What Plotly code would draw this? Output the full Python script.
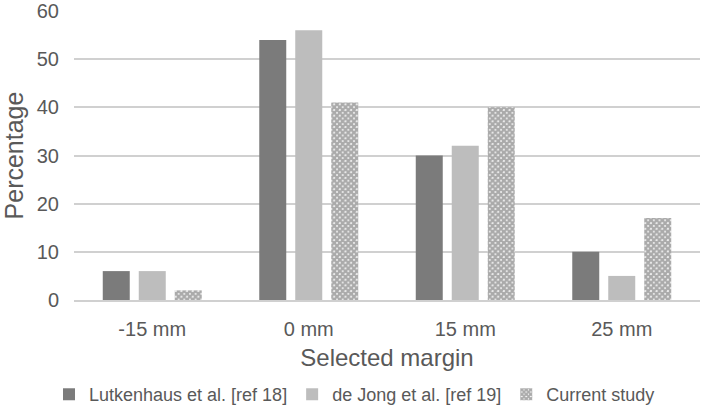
import plotly.graph_objects as go

margins = ['-15 mm', '0 mm', '15 mm', '25 mm']
lutkenhaus = [6, 54, 30, 10]
de_jong = [6, 56, 32, 5]
current = [2, 41, 40, 17]

fig = go.Figure()
fig.add_trace(go.Bar(x=margins, y=lutkenhaus, name='Lutkenhaus et al. [ref 18]',
                     marker=dict(color='#7b7b7b', line=dict(width=0))))
fig.add_trace(go.Bar(x=margins, y=de_jong, name='de Jong et al. [ref 19]',
                     marker=dict(color='#bdbdbd', line=dict(width=0))))
fig.add_trace(go.Bar(x=margins, y=current, name='Current study',
                     marker=dict(color='#5a5a5a', line=dict(width=0),
                                 pattern=dict(shape='x', fgcolor='#555555', bgcolor='white',
                                              size=4, solidity=0.85))))

fig.update_layout(
    width=709, height=411,
    margin=dict(l=74, r=9, t=11, b=111, autoexpand=False),
    plot_bgcolor='white', paper_bgcolor='white',
    font=dict(family='Liberation Sans', color='#595959'),
    barmode='group', bargap=0.31, bargroupgap=0.25,
    legend=dict(orientation='h', xref='container', yref='container',
                x=0.5, xanchor='center', y=0.085, yanchor='top',
                font=dict(size=18), itemwidth=30, tracegroupgap=0),
    showlegend=True,
)
fig.update_xaxes(title=dict(text='Selected margin', font=dict(size=24), standoff=10),
                 tickfont=dict(size=20), showline=True, linecolor='#d0d0d0', linewidth=2,
                 ticks='', ticklabelstandoff=10, automargin=False)
fig.update_yaxes(title=dict(text='Percentage', font=dict(size=25), standoff=12),
                 tickfont=dict(size=20), range=[0, 60], dtick=10, ticklabelstandoff=14,
                 gridcolor='#d0d0d0', gridwidth=2, zeroline=False, automargin=False,
                 ticklabeloverflow='allow')

# drop the default 8px body margin so the figure sits at the window's corner
fig.write_html("out.html", config={'displayModeBar': False},
               post_script="document.body.style.margin='0';")
